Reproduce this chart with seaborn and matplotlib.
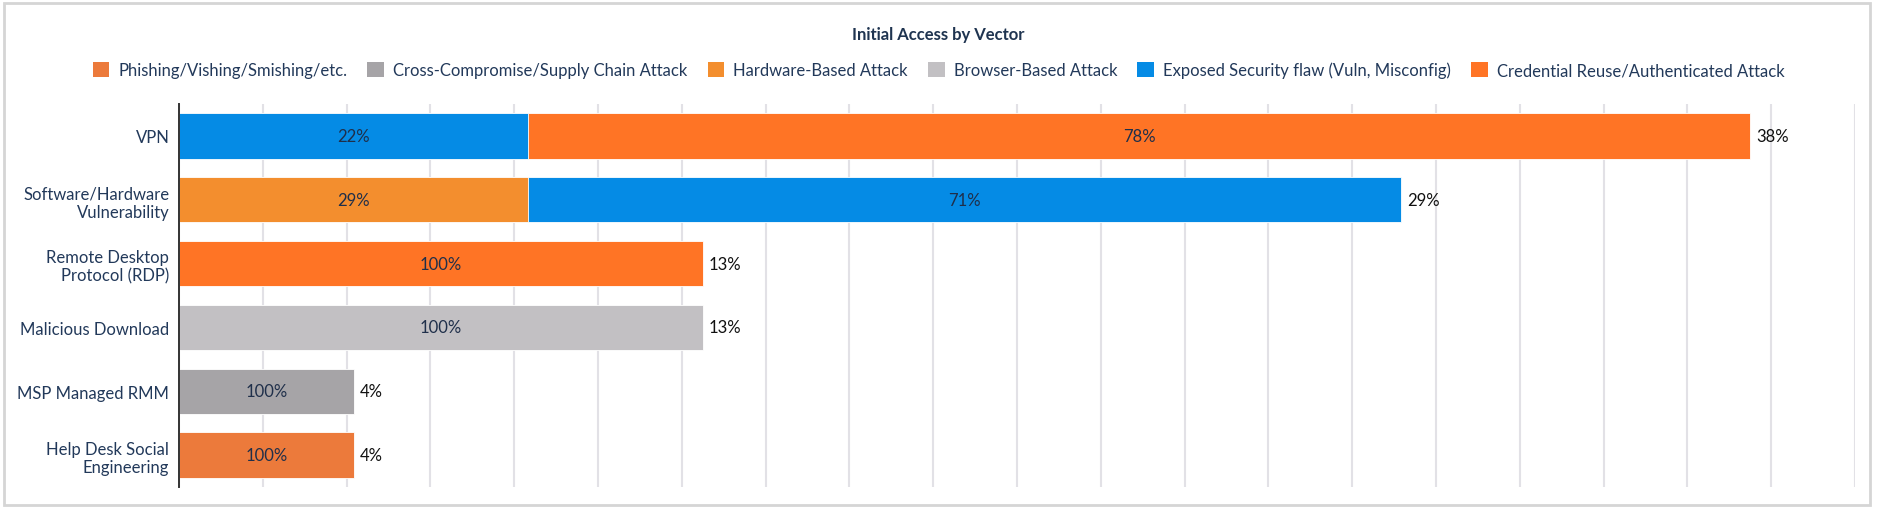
import matplotlib
matplotlib.use("Agg")
import matplotlib.pyplot as plt
from matplotlib.patches import Patch, Rectangle
import seaborn as sns
import pandas as pd

# incidents per initial access vector (24 in total)
categories = [
    "VPN",
    "Software/Hardware\nVulnerability",
    "Remote Desktop\nProtocol (RDP)",
    "Malicious Download",
    "MSP Managed RMM",
    "Help Desk Social\nEngineering",
]
vectors = [
    "Phishing/Vishing/Smishing/etc.",
    "Cross-Compromise/Supply Chain Attack",
    "Hardware-Based Attack",
    "Browser-Based Attack",
    "Exposed Security flaw (Vuln, Misconfig)",
    "Credential Reuse/Authenticated Attack",
]
colors = ["#EC7A3B", "#A6A4A7", "#F38E2E", "#C2C0C3", "#058BE5", "#FF7425"]

# segments in stacking order (left to right) for each category
seg_category = [categories[0], categories[0], categories[1], categories[1],
                categories[2], categories[3], categories[4], categories[5]]
seg_vector = [vectors[4], vectors[5], vectors[2], vectors[4],
              vectors[5], vectors[3], vectors[1], vectors[0]]
seg_count = [2, 7, 2, 5, 3, 3, 1, 1]
seg_layer = [0, 1, 0, 1, 0, 0, 0, 0]

total_incidents = 24


def pct_txt(v):
    # round half up, like the source chart (12.5 -> 13)
    return f"{int(v + 0.5)}%"


df = pd.DataFrame({
    "categoria": seg_category,
    "vetor": seg_vector,
    "contagem": seg_count,
    "camada": seg_layer,
})
df["pct"] = df["contagem"] / total_incidents * 100
df["fim"] = df.groupby("categoria")["pct"].cumsum()
df["inicio"] = df["fim"] - df["pct"]
totais = df.groupby("categoria", sort=False)["contagem"].sum()
df["pct_interno"] = df["contagem"] / df["categoria"].map(totais) * 100

paleta = dict(zip(vectors, colors))

sns.set_style("white")
plt.rcParams["font.family"] = ["Lato", "DejaVu Sans"]

fig = plt.figure(figsize=(18.77, 5.10), dpi=100)
ax = fig.add_axes([0.0954, 0.0431, 0.8929, 0.751])

# draw the outer segment first (cumulative end), inner segments on top
for camada in sorted(df["camada"].unique(), reverse=True):
    parte = df[df["camada"] == camada]
    sns.barplot(
        data=parte,
        x="fim",
        y="categoria",
        hue="vetor",
        palette=paleta,
        order=categories,
        orient="h",
        dodge=False,
        width=0.71,
        saturation=1,
        legend=False,
        edgecolor="white",
        linewidth=0.6,
        ax=ax,
    )

for _, linha in df.iterrows():
    y = categories.index(linha["categoria"])
    ax.text(
        (linha["inicio"] + linha["fim"]) / 2, y,
        pct_txt(linha["pct_interno"]),
        ha="center", va="center", fontsize=12, color="#1F2F4A",
    )

for i, cat in enumerate(categories):
    total_pct = totais[cat] / total_incidents * 100
    ax.text(total_pct + 0.14, i, pct_txt(total_pct),
            ha="left", va="center", fontsize=12, color="#111111")

ax.set_xlim(0, 40)
ax.set_ylim(5.5, -0.5)
ax.set_xticks(range(0, 41, 2))
ax.set_xticklabels([])
ax.xaxis.grid(True, color="#E2E1E6", linewidth=1.5)
ax.yaxis.grid(False)
ax.set_axisbelow(True)
ax.tick_params(axis="both", length=0)
ax.tick_params(axis="y", pad=7, labelsize=12, labelcolor="#22395A")
ax.set_xlabel("")
ax.set_ylabel("")
for lado in ["top", "right", "bottom"]:
    ax.spines[lado].set_visible(False)
ax.spines["left"].set_color("#333333")
ax.spines["left"].set_linewidth(1.4)

fig.text(0.5, 1 - 35 / 510, "Initial Access by Vector", ha="center", va="center",
         fontsize=12, fontweight="bold", color="#1F3450")

handles = [Patch(facecolor=c, edgecolor="none", label=v) for v, c in zip(vectors, colors)]
fig.legend(
    handles=handles,
    loc="center",
    bbox_to_anchor=(0.5, 1 - 71 / 510),
    ncol=6,
    frameon=False,
    fontsize=12,
    handlelength=1.0,
    handleheight=1.0,
    handletextpad=0.55,
    columnspacing=1.2,
    borderpad=0,
    labelcolor="#22395A",
)

fig.patches.append(Rectangle((4 / 1877, 4 / 510), 1866 / 1877, 502 / 510,
                             transform=fig.transFigure, fill=False,
                             edgecolor="#D5D5D5", linewidth=2))

plt.savefig("out.png", dpi=100)
plt.close()
